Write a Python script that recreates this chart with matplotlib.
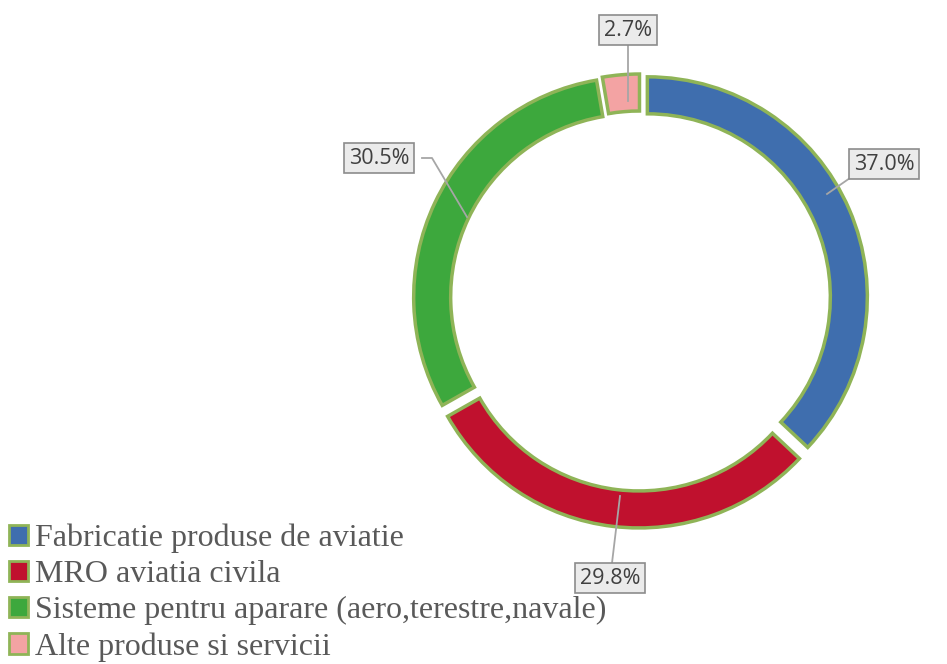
import matplotlib.pyplot as plt
from matplotlib.patches import Patch

categories = ["Fabricatie produse de aviatie", "MRO aviatia civila",
              "Sisteme pentru aparare (aero,terestre,navale)", "Alte produse si servicii"]
values = [37.0, 29.8, 30.5, 2.7]
labels = ["37.0%", "29.8%", "30.5%", "2.7%"]

colors = ["#3F6EAE", "#C0112E", "#3DA83D", "#F3A3A3"]
edge = "#8FB457"

fig = plt.figure(figsize=(9.47, 6.64), dpi=100)
ax = fig.add_axes([0, 0, 1, 1])

# pixel-like data coords, y up
cx, cy, R = 640, 364, 220
wedges, _ = ax.pie(values, colors=colors, startangle=90, counterclock=False,
                   radius=R, center=(cx, cy), explode=[8, 8, 7, 6],
                   wedgeprops=dict(width=37, edgecolor=edge, linewidth=2.5))
ax.set_xlim(0, 947)
ax.set_ylim(0, 664)
ax.set_aspect("equal")
ax.axis("off")

# label boxes: (box x, box y, line points from box to wedge)
label_pos = [(884, 500), (610, 86), (379, 506), (628, 634)]
leaders = [
    [(850, 486), (827, 470)],
    [(612, 101), (620, 168)],
    [(422, 506), (432, 506), (467, 447)],
    [(628, 619), (628, 563)],
]
for lab, (bx, by), pts in zip(labels, label_pos, leaders):
    xs = [p[0] for p in pts]
    ys = [p[1] for p in pts]
    ax.plot(xs, ys, color="#A6A6A6", lw=1.3, zorder=3)
    ax.text(bx, by, lab, ha="center", va="center", fontsize=15.5,
            family="Open Sans", color="#404040", zorder=4,
            bbox=dict(boxstyle="square,pad=0.22", fc="#EBEBEB", ec="#8C8C8C", lw=1.2))

handles = [Patch(facecolor=c, edgecolor=edge, linewidth=2) for c in colors]
leg = ax.legend(handles, categories, loc="lower left", bbox_to_anchor=(-0.004, -0.016),
                frameon=False, handlelength=0.6, handleheight=0.6,
                handletextpad=0.2, labelspacing=0.22, borderaxespad=0,
                prop=dict(family="Liberation Serif", size=23))
for t in leg.get_texts():
    t.set_color("#595959")

plt.savefig("out.png", dpi=100)
